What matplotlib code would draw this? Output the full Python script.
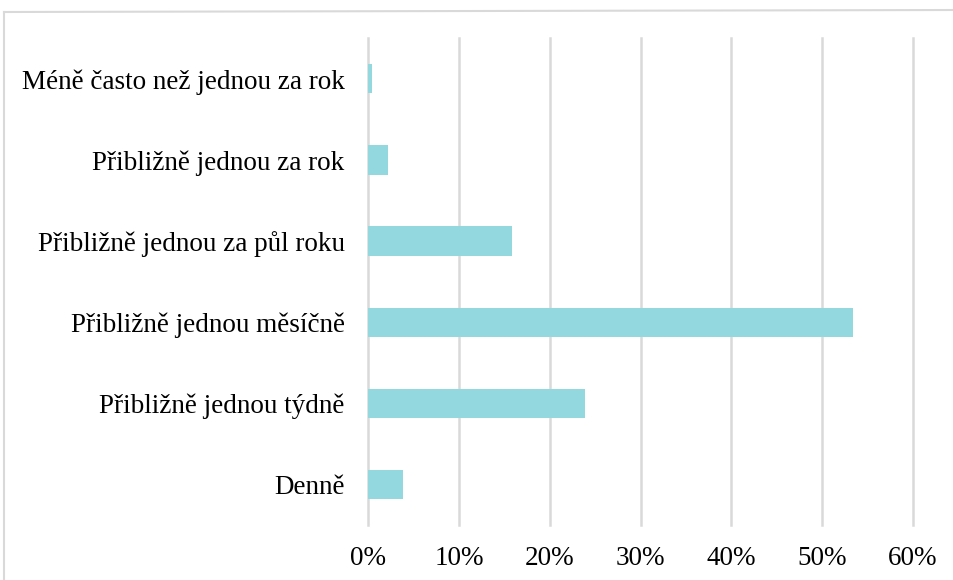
#!/usr/bin/env python3

import matplotlib
import matplotlib.pyplot as plt
from matplotlib.lines import Line2D
from matplotlib.ticker import FuncFormatter

matplotlib.rcParams['font.family'] = ['Liberation Serif', 'DejaVu Serif']

categories = [
    'Denně',
    'Přibližně jednou týdně',
    'Přibližně jednou měsíčně',
    'Přibližně jednou za půl roku',
    'Přibližně jednou za rok',
    'Méně často než jednou za rok',
]
values = [3.8, 23.9, 53.4, 15.8, 2.2, 0.45]
xticks = [0, 10, 20, 30, 40, 50, 60]

fontsize = 19.5
bar_color = '#93D8DE'
grid_color = '#D9D9D9'


def plot():
    fig = plt.figure(figsize=(9.54, 5.8), dpi=100)
    ax = fig.add_axes([0.386, 0.095, 0.571, 0.839])

    ax.barh(range(len(categories)), values, height=0.36, color=bar_color, zorder=2)

    ax.set_xlim(0, 60)
    ax.set_ylim(-0.5, len(categories) - 0.5)
    ax.set_xticks(xticks)
    ax.xaxis.set_major_formatter(FuncFormatter(lambda v, p: f'{v:.0f}%'))
    ax.set_yticks(range(len(categories)))
    ax.set_yticklabels(categories)

    ax.tick_params(axis='both', length=0, labelsize=fontsize)
    ax.tick_params(axis='x', pad=15)
    ax.tick_params(axis='y', pad=17)

    ax.grid(axis='x', color=grid_color, linewidth=1.8, zorder=0)
    for gl in ax.get_xgridlines():
        gl.set_clip_on(False)
    for s in ax.spines.values():
        s.set_visible(False)

    # light frame around the chart (only top and left edges are visible)
    fig.add_artist(Line2D([4 / 954, 1.0], [1 - 12 / 580, 1 - 10 / 580],
                          transform=fig.transFigure, color='#D9D9D9', linewidth=1.5))
    fig.add_artist(Line2D([4 / 954, 4 / 954], [1 - 12 / 580, 0.0],
                          transform=fig.transFigure, color='#D9D9D9', linewidth=1.5))

    fig.savefig('out.png', dpi=100)


if __name__ == '__main__':
    plot()
